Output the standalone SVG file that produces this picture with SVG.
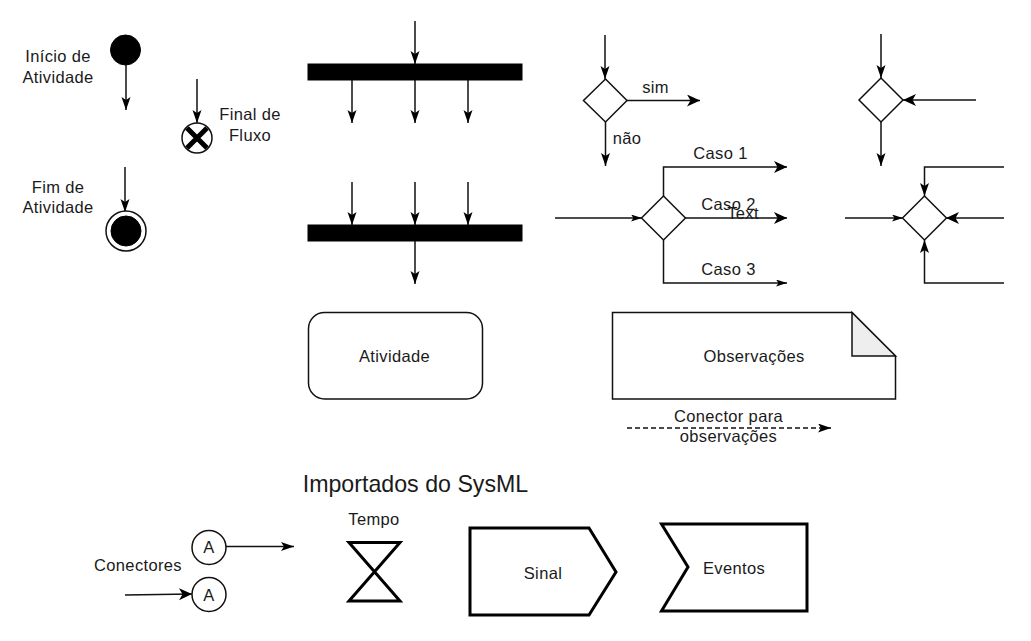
<svg xmlns="http://www.w3.org/2000/svg" width="1031" height="641" viewBox="0 0 1031 641">
<style>
text{font-family:"Liberation Sans",Arial,sans-serif;font-size:16.500px;letter-spacing:.35px;fill:#1a1a1a;text-anchor:middle}
.s{fill:#fff;stroke:#111;stroke-width:1.500}
.k{fill:#000;stroke:#000}
.h{fill:#fff;stroke:#000;stroke-width:3;stroke-linejoin:miter}
#connectors path{fill:none;stroke:#111;stroke-width:1.500;marker-end:url(#a)}
#connectors path.b{marker-end:url(#b)}
#connectors path.c{marker-end:url(#c)}
#connectors path.d{marker-end:url(#d)}
</style>
<defs>
<marker id="a" markerUnits="userSpaceOnUse" markerWidth="14" markerHeight="10" refX="13" refY="4.500" orient="auto"><path d="M0 0L13 4.500L0 9L3 4.500Z" fill="#000"/></marker>
<marker id="b" markerUnits="userSpaceOnUse" markerWidth="14" markerHeight="13" refX="13" refY="6" orient="auto"><path d="M0 0L13 6L0 12L3.500 6Z" fill="#000"/></marker>
<marker id="c" markerUnits="userSpaceOnUse" markerWidth="12" markerHeight="8" refX="11" refY="3.500" orient="auto"><path d="M0 0L11 3.500L0 7L2.500 3.500Z" fill="#000"/></marker>
<marker id="d" markerUnits="userSpaceOnUse" markerWidth="14" markerHeight="10" refX="13" refY="4.500" orient="auto"><path d="M0 0L13 4.500L0 9L3 4.500Z" fill="#000"/></marker>
</defs>
<rect width="1031" height="641" fill="#fff"/>
<g id="connectors">
<path d="M126 65V110"/><path d="M197 79V123"/><path d="M125 167V212"/>
<path d="M415 21V64"/><path d="M352 80V123"/><path d="M415 80V123"/><path d="M468 80V123"/>
<path d="M352 182V225"/><path d="M415 182V225"/><path d="M468 182V225"/><path d="M415 241V284"/>
<path d="M605 35V79"/><path class="b" d="M627 100.500H700"/><path d="M605.500 122V166"/>
<path d="M881 34V78"/><path class="b" d="M976 100H903"/><path d="M881 122V166"/>
<path class="c" d="M555 218H642"/><path class="b" d="M663.500 196V167H787"/><path class="b" d="M685 218H787"/><path class="c" d="M663.500 240V283H787"/>
<path class="c" d="M845 218H903"/><path class="b" d="M1004 218H946"/><path d="M1004 167H924.500V196"/><path d="M1004 283H924.500V240"/>
<path class="d" d="M627 428H831" stroke-dasharray="5 3"/>
<path class="d" d="M226 546.500H294"/><path class="b" d="M125 595L192 594"/>
</g>
<g id="inicio"><circle cx="125.500" cy="50" r="15" class="k"/><text x="58" y="62">Início de</text><text x="58" y="83">Atividade</text></g>
<g id="final-fluxo"><circle cx="197" cy="138" r="15" class="s"/><path d="M187 128L207 148M207 128L187 148" stroke="#000" stroke-width="5" fill="none"/><text x="250" y="120">Final de</text><text x="250" y="141">Fluxo</text></g>
<g id="fim"><circle cx="126" cy="231" r="20" class="s"/><circle cx="126" cy="231" r="15" class="k"/><text x="58" y="193">Fim de</text><text x="58" y="213">Atividade</text></g>
<g id="fork"><rect x="308" y="64" width="214" height="16" class="k"/></g>
<g id="join"><rect x="308" y="225" width="214" height="16" class="k"/></g>
<g id="decisao"><path d="M605.500 79L627 100.500L605.500 122L583.500 100.500Z" class="s"/><text x="655.500" y="93">sim</text><text x="627" y="144">não</text></g>
<g id="merge"><path d="M881 78L903 100L881 122L859 100Z" class="s"/></g>
<g id="casos"><path d="M663.500 196L685.500 218L663.500 240L641.500 218Z" class="s"/><text x="720.500" y="159">Caso 1</text><text x="728.500" y="210">Caso 2</text><text x="743" y="219">Text</text><text x="728.500" y="275">Caso 3</text></g>
<g id="merge-multi"><path d="M924.500 196L946.500 218L924.500 240L902.500 218Z" class="s"/></g>
<g id="atividade"><rect x="308.500" y="312.500" width="174" height="86.500" rx="16" class="s"/><text x="394.500" y="362">Atividade</text></g>
<g id="observacoes"><path d="M612.500 312.500H852L895.500 356V399H612.500Z" class="s"/><path d="M852 312.500L895.500 356H852Z" fill="#eee" stroke="#111" stroke-width="1.500"/><text x="754" y="362">Observações</text></g>
<g id="conector-obs"><text x="728.500" y="422">Conector para</text><text x="728.500" y="442">observações</text></g>
<g id="titulo"><text x="415.500" y="492" style="font-size:23.200px;letter-spacing:0">Importados do SysML</text></g>
<g id="conectores"><circle cx="209" cy="547.500" r="17" class="s"/><text x="209" y="553">A</text><circle cx="209" cy="594.500" r="17" class="s"/><text x="209" y="601">A</text><text x="138" y="571">Conectores</text></g>
<g id="tempo"><path d="M349 542.500H400L349 601H400Z" class="h"/><text x="374" y="525">Tempo</text></g>
<g id="sinal"><path d="M470 528H589L616 572L589 615H470Z" class="h"/><text x="543" y="579">Sinal</text></g>
<g id="eventos"><path d="M661.500 524H807V611H661.500L688 567Z" class="h"/><text x="734" y="574">Eventos</text></g>
</svg>
